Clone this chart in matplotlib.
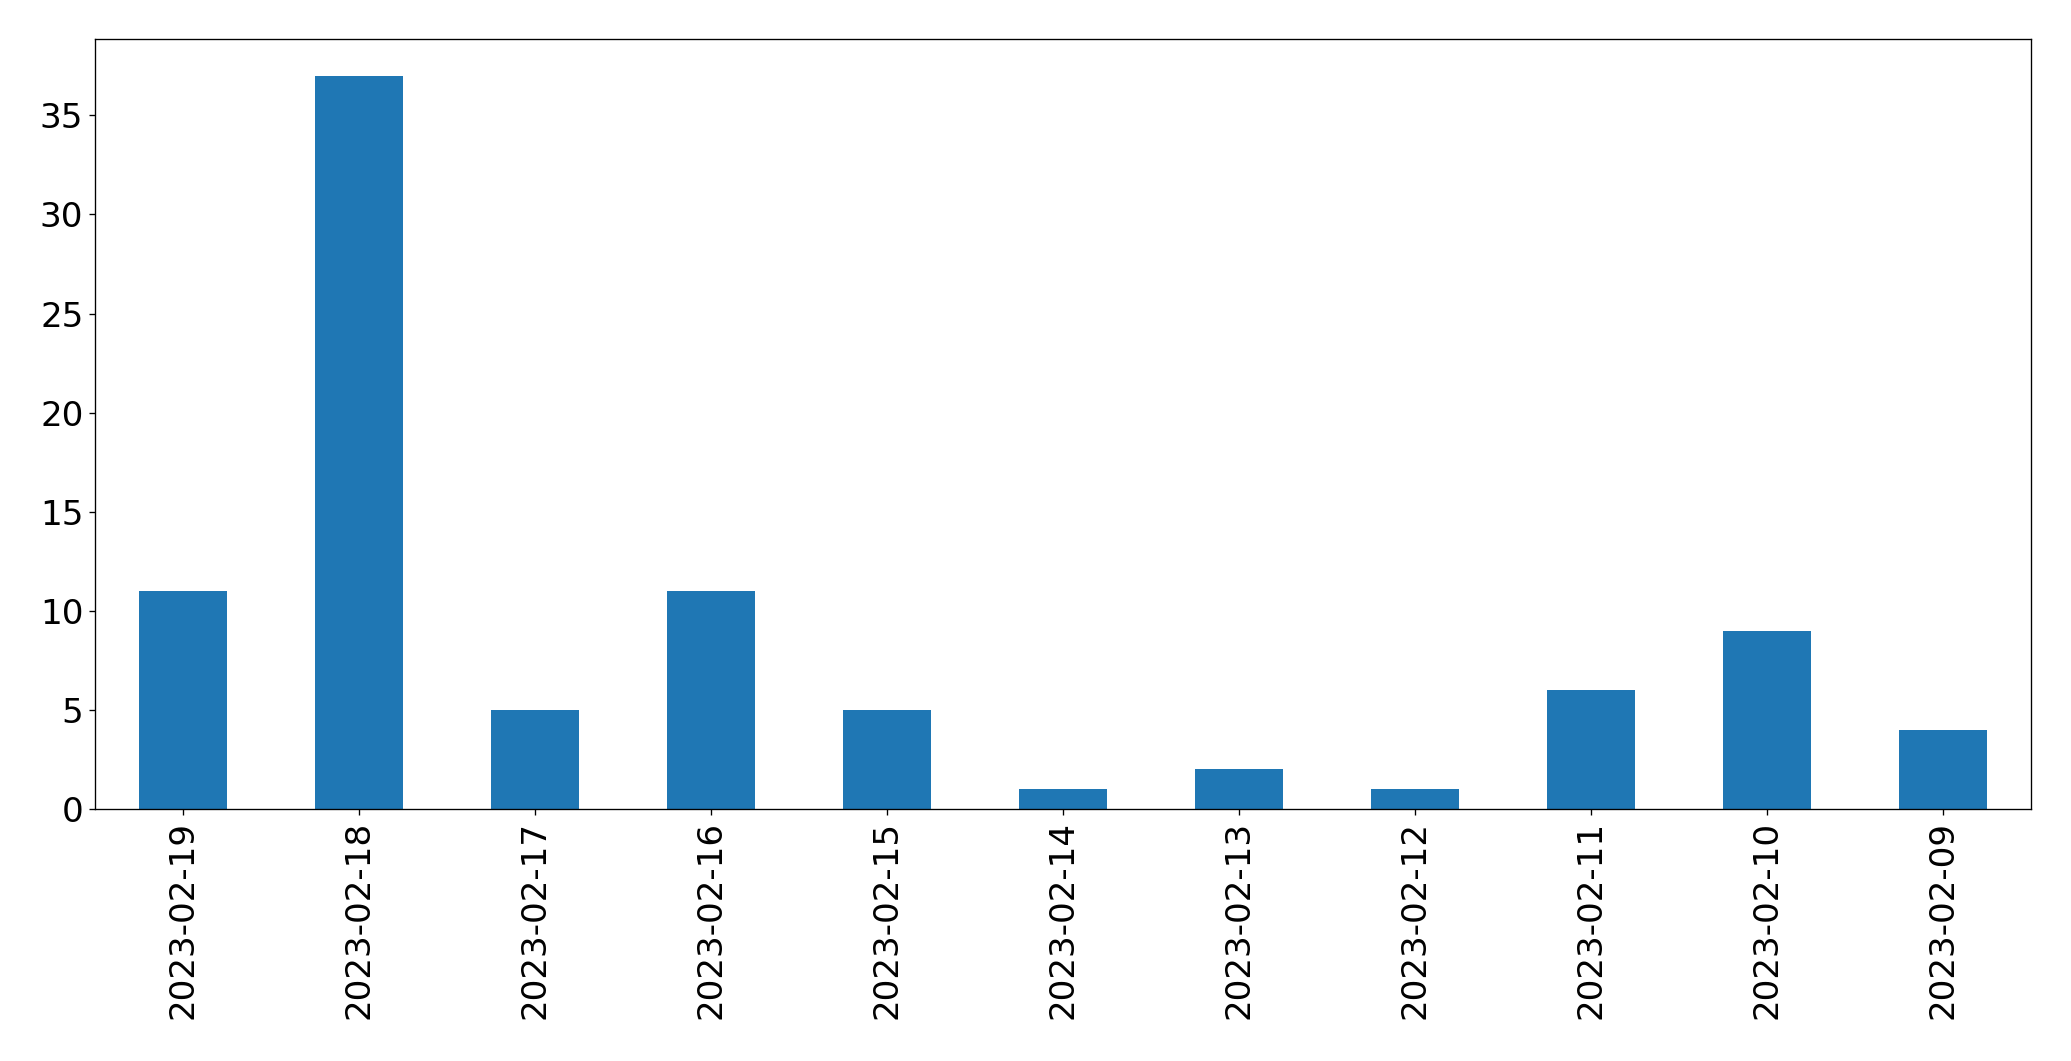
import matplotlib.pyplot as plt

# daily counts
dates = ["2023-02-19", "2023-02-18", "2023-02-17", "2023-02-16", "2023-02-15",
         "2023-02-14", "2023-02-13", "2023-02-12", "2023-02-11", "2023-02-10",
         "2023-02-09"]
counts = [11, 37, 5, 11, 5, 1, 2, 1, 6, 9, 4]

dpi = 120
fig = plt.figure(figsize=(2071 / dpi, 1061 / dpi), dpi=dpi)
ax = fig.add_axes([0.0459, 0.2375, 0.9348, 0.7257])

pos = range(len(dates))
ax.bar(pos, counts, width=0.5, color="#1f77b4")
ax.set_xticks(list(pos))
ax.set_xticklabels(dates, rotation=90)
ax.set_xlim(-0.5, len(dates) - 0.5)
ax.set_ylim(0, max(counts) * 1.05)
ax.tick_params(labelsize=20.5)

fig.savefig("out.png", dpi=dpi)
